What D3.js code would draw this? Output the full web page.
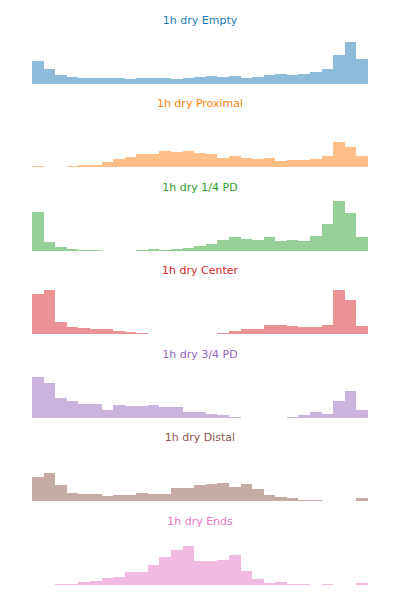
<!DOCTYPE html>
<html><head><meta charset="utf-8">
<script src="https://cdn.jsdelivr.net/npm/d3@7"></script>
<style>body{margin:0;background:#fff}</style>
</head><body>
<svg id="chart" width="400" height="600"></svg>
<script>
const titles = ["1h dry Empty","1h dry Proximal","1h dry 1/4 PD","1h dry Center","1h dry 3/4 PD","1h dry Distal","1h dry Ends"];
const colors = ["#1f77b4","#ff7f0e","#2ca02c","#d62728","#9467bd","#8c564b","#e377c2"];
const bins = d3.range(29);
const empty    = [22.7,14.7,8.7,6.7,5.7,5.7,5.7,5.7,4.7,5.7,5.7,5.7,4.7,5.7,6.7,7.7,6.7,7.7,5.7,6.7,8.7,9.7,8.7,9.7,11.7,14.7,28.7,41.7,24.7];
const proximal = [1.7,0.7,0,1.7,2.7,2.7,5.7,8.7,10.7,13.7,13.7,16.7,15.7,16.7,14.7,13.7,9.7,11.7,9.7,8.7,9.7,6.7,7.7,7.7,8.7,11.7,25.7,20.7,11.7];
const quarterPD= [38.7,8.7,3.7,1.7,0.7,0.7,0,0,0,0.7,1.7,0.7,1.7,2.7,4.7,6.7,10.7,13.7,11.7,10.7,13.7,9.7,10.7,9.7,14.7,26.7,50,37.7,13.7];
const center   = [40.7,44.7,12.7,7.7,6.7,5.7,5.7,3.7,2.7,1.7,0,0,0,0,0,0,1.7,3.7,5.7,5.7,9.7,9.7,8.7,7.7,7.7,9.7,44.7,34.7,8.7];
const threeQPD = [40.7,34.7,19.7,16.7,13.7,13.7,7.7,12.7,11.7,11.7,12.7,10.7,10.7,5.7,5.7,3.7,2.7,0.7,0,0,0,0,0.7,2.7,5.7,3.7,16.7,26.7,7.7];
const distal   = [24.7,28.7,16.7,8.7,7.7,7.7,5.7,6.7,6.7,8.7,7.7,7.7,13.7,13.7,16.7,17.7,18.7,14.7,17.7,12.7,6.7,4.7,3.7,1.7,1.7,0,0,0,3.7];
const ends     = [0,0,0.7,0.7,2.7,3.7,6.7,7.7,12.7,12.7,19.7,27.7,34.7,38.7,23.7,23.7,24.7,29.7,13.7,5.7,1.7,2.7,0.7,0.7,0,0.7,0,0,1.7];
const series = [empty, proximal, quarterPD, center, threeQPD, distal, ends];

const svg = d3.select("#chart");
const x = d3.scaleBand().domain(bins).range([32, 368]).padding(0);
const maxAll = d3.max(series, s => d3.max(s));
const panelH = 52.5;
const y = d3.scaleLinear().domain([0, maxAll * 1.05]).range([panelH, 0]);

series.forEach((vals, i) => {
  const base = 83.7 + 83.5 * i;
  const g = svg.append("g").attr("transform", `translate(0,${base - panelH})`);
  const fill = d3.interpolateRgb(colors[i], "#ffffff")(0.5);
  g.selectAll("rect").data(vals).join("rect")
    .attr("x", (d, j) => x(bins[j]))
    .attr("width", x.bandwidth())
    .attr("y", d => y(d))
    .attr("height", d => panelH - y(d))
    .attr("fill", fill)
    .attr("shape-rendering", "crispEdges");
  svg.append("text")
    .attr("x", 200).attr("y", base - panelH - 7.7)
    .attr("text-anchor", "middle")
    .attr("font-family", "DejaVu Sans")
    .attr("font-size", 11)
    .attr("fill", colors[i])
    .text(titles[i]);
});
</script>
</body></html>
